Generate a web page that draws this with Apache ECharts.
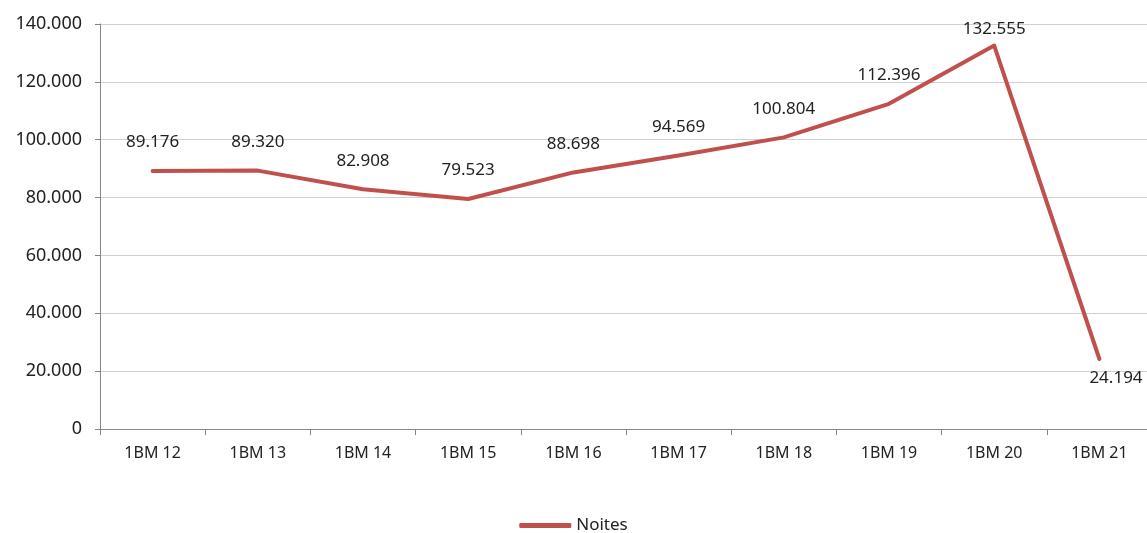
<!DOCTYPE html>
<html>
<head>
<meta charset="utf-8">
<script src="https://cdn.jsdelivr.net/npm/echarts@6/dist/echarts.min.js"></script>
<style>
html,body{margin:0;padding:0;background:#fff;}
#chart{width:1147px;height:533px;}
</style>
</head>
<body>
<div id="chart"></div>
<script>
const categories = ["1BM 12","1BM 13","1BM 14","1BM 15","1BM 16","1BM 17","1BM 18","1BM 19","1BM 20","1BM 21"];
const noites = [89176, 89320, 82908, 79523, 88698, 94569, 100804, 112396, 132555, 24194];
const seriesName = "Noites";

function fmt(v){
  return String(Math.round(v)).replace(/\B(?=(\d{3})+(?!\d))/g, ".");
}

const font = "Noto Sans";
const txt = "#222";
const data = noites.map((v, i) => {
  if (i === noites.length - 1) {
    return {value: v, label: {position: [-9, 12], align: "left", verticalAlign: "top"}};
  }
  if (i === 8) {
    return {value: v, label: {distance: 7}};
  }
  return v;
});

const chart = echarts.init(document.getElementById("chart"));
chart.setOption({
  animation: false,
  textStyle: {fontFamily: font},
  grid: {left: 100, top: 24, width: 1052, bottom: 104, containLabel: false, outerBoundsMode: "none"},
  legend: {
    data: [seriesName],
    top: 512,
    left: "center",
    icon: "roundRect",
    itemWidth: 52,
    itemHeight: 5,
    itemGap: 8,
    textStyle: {fontFamily: font, fontSize: 17, color: txt}
  },
  xAxis: {
    type: "category",
    data: categories,
    boundaryGap: true,
    axisLine: {lineStyle: {color: "#868686", width: 1}},
    axisTick: {show: true, length: 6, lineStyle: {color: "#868686"}},
    axisLabel: {margin: 16, fontFamily: font, fontSize: 16, color: txt}
  },
  yAxis: {
    type: "value",
    min: 0,
    max: 140000,
    interval: 20000,
    axisLine: {show: true, lineStyle: {color: "#868686", width: 1}},
    axisTick: {show: true, length: 5, lineStyle: {color: "#868686"}},
    splitLine: {lineStyle: {color: "#d0d0d0", width: 1}},
    axisLabel: {margin: 18, fontFamily: font, fontSize: 18, color: txt, formatter: fmt}
  },
  series: [{
    name: seriesName,
    type: "line",
    data: data,
    smooth: false,
    symbol: "circle",
    symbolSize: 2,
    showSymbol: true,
    lineStyle: {color: "#c0504d", width: 4, cap: "round", join: "round"},
    itemStyle: {color: "#c0504d", borderWidth: 0},
    labelLayout: {hideOverlap: false},
    label: {
      show: true,
      position: "top",
      distance: 19,
      fontFamily: font,
      fontSize: 17,
      color: txt,
      formatter: p => fmt(p.value)
    }
  }]
});
</script>
</body>
</html>
